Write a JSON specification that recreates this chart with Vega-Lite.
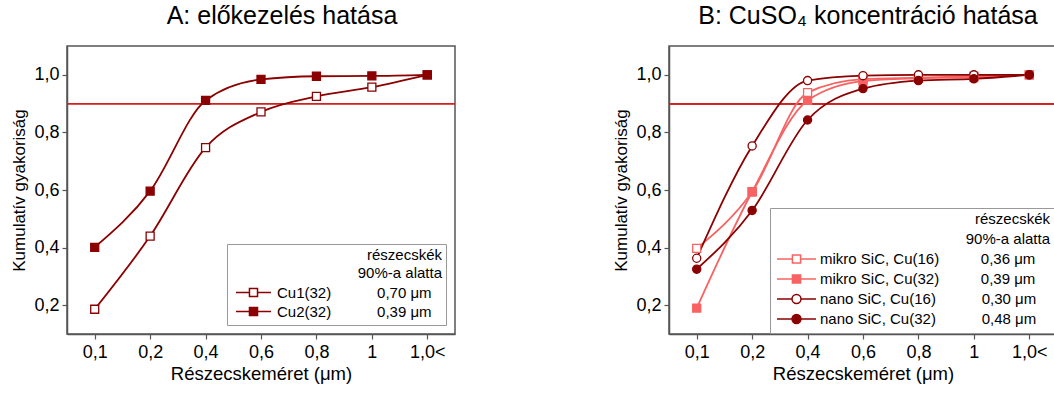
{
  "$schema": "https://vega.github.io/schema/vega-lite/v6.json",
  "background": "white",
  "padding": {"left": 10, "top": 3, "right": 0, "bottom": 0},
  "spacing": 155,
  "datasets": {
    "A": [
      {"meret": "0,1", "ertek": 0.186, "sorozat": "Cu1(32)"},
      {"meret": "0,2", "ertek": 0.44, "sorozat": "Cu1(32)"},
      {"meret": "0,4", "ertek": 0.747, "sorozat": "Cu1(32)"},
      {"meret": "0,6", "ertek": 0.871, "sorozat": "Cu1(32)"},
      {"meret": "0,8", "ertek": 0.925, "sorozat": "Cu1(32)"},
      {"meret": "1", "ertek": 0.957, "sorozat": "Cu1(32)"},
      {"meret": "1,0<", "ertek": 1.0, "sorozat": "Cu1(32)"},
      {"meret": "0,1", "ertek": 0.401, "sorozat": "Cu2(32)"},
      {"meret": "0,2", "ertek": 0.596, "sorozat": "Cu2(32)"},
      {"meret": "0,4", "ertek": 0.911, "sorozat": "Cu2(32)"},
      {"meret": "0,6", "ertek": 0.984, "sorozat": "Cu2(32)"},
      {"meret": "0,8", "ertek": 0.995, "sorozat": "Cu2(32)"},
      {"meret": "1", "ertek": 0.996, "sorozat": "Cu2(32)"},
      {"meret": "1,0<", "ertek": 1.0, "sorozat": "Cu2(32)"}
    ],
    "B": [
      {"meret": "0,1", "ertek": 0.397, "sorozat": "mikro SiC, Cu(16)"},
      {"meret": "0,2", "ertek": 0.594, "sorozat": "mikro SiC, Cu(16)"},
      {"meret": "0,4", "ertek": 0.938, "sorozat": "mikro SiC, Cu(16)"},
      {"meret": "0,6", "ertek": 0.985, "sorozat": "mikro SiC, Cu(16)"},
      {"meret": "0,8", "ertek": 0.99, "sorozat": "mikro SiC, Cu(16)"},
      {"meret": "1", "ertek": 0.995, "sorozat": "mikro SiC, Cu(16)"},
      {"meret": "1,0<", "ertek": 1.0, "sorozat": "mikro SiC, Cu(16)"},
      {"meret": "0,1", "ertek": 0.19, "sorozat": "mikro SiC, Cu(32)"},
      {"meret": "0,2", "ertek": 0.594, "sorozat": "mikro SiC, Cu(32)"},
      {"meret": "0,4", "ertek": 0.911, "sorozat": "mikro SiC, Cu(32)"},
      {"meret": "0,6", "ertek": 0.978, "sorozat": "mikro SiC, Cu(32)"},
      {"meret": "0,8", "ertek": 0.988, "sorozat": "mikro SiC, Cu(32)"},
      {"meret": "1", "ertek": 0.992, "sorozat": "mikro SiC, Cu(32)"},
      {"meret": "1,0<", "ertek": 1.0, "sorozat": "mikro SiC, Cu(32)"},
      {"meret": "0,1", "ertek": 0.363, "sorozat": "nano SiC, Cu(16)"},
      {"meret": "0,2", "ertek": 0.753, "sorozat": "nano SiC, Cu(16)"},
      {"meret": "0,4", "ertek": 0.98, "sorozat": "nano SiC, Cu(16)"},
      {"meret": "0,6", "ertek": 0.997, "sorozat": "nano SiC, Cu(16)"},
      {"meret": "0,8", "ertek": 1.0, "sorozat": "nano SiC, Cu(16)"},
      {"meret": "1", "ertek": 1.0, "sorozat": "nano SiC, Cu(16)"},
      {"meret": "1,0<", "ertek": 1.0, "sorozat": "nano SiC, Cu(16)"},
      {"meret": "0,1", "ertek": 0.325, "sorozat": "nano SiC, Cu(32)"},
      {"meret": "0,2", "ertek": 0.529, "sorozat": "nano SiC, Cu(32)"},
      {"meret": "0,4", "ertek": 0.843, "sorozat": "nano SiC, Cu(32)"},
      {"meret": "0,6", "ertek": 0.952, "sorozat": "nano SiC, Cu(32)"},
      {"meret": "0,8", "ertek": 0.98, "sorozat": "nano SiC, Cu(32)"},
      {"meret": "1", "ertek": 0.986, "sorozat": "nano SiC, Cu(32)"},
      {"meret": "1,0<", "ertek": 1.0, "sorozat": "nano SiC, Cu(32)"}
    ]
  },
  "resolve": {
    "scale": {"stroke": "independent", "fill": "independent"},
    "legend": {"stroke": "independent", "fill": "independent"}
  },
  "hconcat": [
    {
      "data": {"name": "A"},
      "width": 388,
      "height": 288,
      "title": {"text": "A: előkezelés hatása", "dx": 21},
      "layer": [
        {
          "mark": {"type": "rule", "color": "#D42020", "strokeWidth": 1},
          "encoding": {"y": {"datum": 0.9, "type": "quantitative"}}
        },
        {
          "mark": {"type": "line", "interpolate": "monotone", "strokeWidth": 1.8},
          "encoding": {
            "x": {"field": "meret", "type": "ordinal", "sort": null,
                  "scale": {"type": "point", "domain": ["0,1", "0,2", "0,4", "0,6", "0,8", "1", "1,0<"], "padding": 0.5},
                  "axis": {"labelAngle": 0, "tickSize": 5, "labelPadding": 4, "titlePadding": 3},
                  "title": "Részecskeméret (μm)"},
            "y": {"field": "ertek", "type": "quantitative",
                  "scale": {"domain": [0.1, 1.1], "nice": false, "zero": false},
                  "axis": {"values": [0.2, 0.3, 0.4, 0.5, 0.6, 0.7, 0.8, 0.9, 1.0],
                           "labelExpr": "round(datum.value*10) % 2 == 0 ? replace(format(datum.value, '.1f'), '.', ',') : ''",
                           "tickSize": {"condition": {"test": "round(datum.value*10) % 2 == 0", "value": 5}, "value": 3},
                           "labelOverlap": false, "labelPadding": 3, "titlePadding": 5},
                  "title": "Kumulatív gyakoriság"},
            "stroke": {"field": "sorozat", "type": "nominal",
                       "scale": {"domain": ["Cu1(32)", "Cu2(32)"], "range": ["#8B0000", "#8B0000"]},
                       "legend": {
                         "orient": "none", "legendX": 160, "legendY": 198,
                         "title": ["részecskék", "90%-a alatta"],
                         "titleAnchor": "end", "titleAlign": "right", "titleFontSize": 15, "titleFontWeight": "normal",
                         "titleLineHeight": 18, "titlePadding": 2, "titleColor": "#000",
                         "labelFontSize": 15, "labelLimit": 600, "labelColor": "#000", "labelOffset": 5,
                         "labelExpr": "datum.label == 'Cu1(32)' ? 'Cu1(32)\u00a0\u00a0\u00a0\u00a0\u00a0\u00a0\u00a0\u00a0\u00a0\u00a0\u00a00,70 μm' : 'Cu2(32)\u00a0\u00a0\u00a0\u00a0\u00a0\u00a0\u00a0\u00a0\u00a0\u00a0\u00a00,39 μm'",
                         "symbolType": "M-1,0H-0.23M0.23,0H1M-0.23,-0.23H0.23V0.23H-0.23Z",
                         "symbolSize": 1225, "symbolStrokeWidth": 1.5, "clipHeight": 19, "rowPadding": 0, "symbolOffset": 4,
                         "fillColor": "white", "strokeColor": "#999", "padding": 4,
                         "encode": {"title": {"update": {"dx": {"value": 10}}}}
                       }}
          }
        },
        {
          "mark": {"type": "point", "shape": "square", "size": 64, "opacity": 1, "fillOpacity": 1, "strokeWidth": 1.3},
          "encoding": {
            "x": {"field": "meret", "type": "ordinal", "sort": null},
            "y": {"field": "ertek", "type": "quantitative"},
            "stroke": {"field": "sorozat", "type": "nominal"},
            "fill": {"field": "sorozat", "type": "nominal",
                     "scale": {"domain": ["Cu1(32)", "Cu2(32)"], "range": ["white", "#8B0000"]}, "legend": null}
          }
        }
      ]
    },
    {
      "data": {"name": "B"},
      "width": 388,
      "height": 288,
      "title": {"text": "B: CuSO₄ koncentráció hatása", "dx": 5},
      "layer": [
        {
          "mark": {"type": "rule", "color": "#D42020", "strokeWidth": 1},
          "encoding": {"y": {"datum": 0.9, "type": "quantitative"}}
        },
        {
          "mark": {"type": "line", "interpolate": "monotone", "strokeWidth": 1.8},
          "encoding": {
            "x": {"field": "meret", "type": "ordinal", "sort": null,
                  "scale": {"type": "point", "domain": ["0,1", "0,2", "0,4", "0,6", "0,8", "1", "1,0<"], "padding": 0.5},
                  "axis": {"labelAngle": 0, "tickSize": 5, "labelPadding": 4, "titlePadding": 3},
                  "title": "Részecskeméret (μm)"},
            "y": {"field": "ertek", "type": "quantitative",
                  "scale": {"domain": [0.1, 1.1], "nice": false, "zero": false},
                  "axis": {"values": [0.2, 0.3, 0.4, 0.5, 0.6, 0.7, 0.8, 0.9, 1.0],
                           "labelExpr": "round(datum.value*10) % 2 == 0 ? replace(format(datum.value, '.1f'), '.', ',') : ''",
                           "tickSize": {"condition": {"test": "round(datum.value*10) % 2 == 0", "value": 5}, "value": 3},
                           "labelOverlap": false, "labelPadding": 3, "titlePadding": 5},
                  "title": "Kumulatív gyakoriság"},
            "stroke": {"field": "sorozat", "type": "nominal",
                       "scale": {"domain": ["mikro SiC, Cu(16)", "mikro SiC, Cu(32)", "nano SiC, Cu(16)", "nano SiC, Cu(32)"],
                                 "range": ["#F86262", "#F86262", "#8B0000", "#8B0000"]},
                       "legend": {
                         "orient": "none", "legendX": 101, "legendY": 162,
                         "title": ["részecskék", "90%-a alatta"],
                         "titleAnchor": "end", "titleAlign": "right", "titleFontSize": 15, "titleFontWeight": "normal",
                         "titleLineHeight": 20, "titlePadding": 2, "titleColor": "#000",
                         "labelFontSize": 15, "labelLimit": 600, "labelColor": "#000", "labelOffset": 3,
                         "labelExpr": "datum.label == 'mikro SiC, Cu(16)' ? 'mikro SiC, Cu(16)\u00a0\u00a0\u00a0\u00a0\u00a0\u00a0\u00a0\u00a0\u00a0\u00a00,36 μm' : datum.label == 'mikro SiC, Cu(32)' ? 'mikro SiC, Cu(32)\u00a0\u00a0\u00a0\u00a0\u00a0\u00a0\u00a0\u00a0\u00a0\u00a00,39 μm' : datum.label == 'nano SiC, Cu(16)' ? 'nano SiC, Cu(16)\u00a0\u00a0\u00a0\u00a0\u00a0\u00a0\u00a0\u00a0\u00a0\u00a0\u00a00,30 μm' : 'nano SiC, Cu(32)\u00a0\u00a0\u00a0\u00a0\u00a0\u00a0\u00a0\u00a0\u00a0\u00a0\u00a00,48 μm'",
                         "symbolType": {"signal": "indexof(datum.value, 'mikro') == 0 ? 'M-1,0H-0.21M0.21,0H1M-0.21,-0.21H0.21V0.21H-0.21Z' : 'M-1,0H-0.23M0.23,0H1M-0.23,0A0.23,0.23,0,1,1,0.23,0A0.23,0.23,0,1,1,-0.23,0Z'"},
                         "symbolSize": 1521, "symbolStrokeWidth": 1.5, "clipHeight": 20, "rowPadding": 0, "symbolOffset": 2,
                         "fillColor": "white", "strokeColor": "#999", "padding": 4,
                         "encode": {"title": {"update": {"dx": {"value": 14}}}}
                       }}
          }
        },
        {
          "transform": [{"filter": "indexof(datum.sorozat, 'mikro') == 0"}],
          "mark": {"type": "point", "shape": "square", "size": 64, "opacity": 1, "fillOpacity": 1, "strokeWidth": 1.3},
          "encoding": {
            "x": {"field": "meret", "type": "ordinal", "sort": null},
            "y": {"field": "ertek", "type": "quantitative"},
            "stroke": {"field": "sorozat", "type": "nominal"},
            "fill": {"field": "sorozat", "type": "nominal",
                     "scale": {"domain": ["mikro SiC, Cu(16)", "mikro SiC, Cu(32)", "nano SiC, Cu(16)", "nano SiC, Cu(32)"],
                               "range": ["white", "#F86262", "white", "#8B0000"]}, "legend": null}
          }
        },
        {
          "transform": [{"filter": "indexof(datum.sorozat, 'nano') == 0"}],
          "mark": {"type": "point", "shape": "circle", "size": 66, "opacity": 1, "fillOpacity": 1, "strokeWidth": 1.3},
          "encoding": {
            "x": {"field": "meret", "type": "ordinal", "sort": null},
            "y": {"field": "ertek", "type": "quantitative"},
            "stroke": {"field": "sorozat", "type": "nominal"},
            "fill": {"field": "sorozat", "type": "nominal", "legend": null}
          }
        }
      ]
    }
  ],
  "config": {
    "font": "Liberation Sans",
    "view": {"stroke": "#555", "strokeWidth": 1.5},
    "axis": {"domainColor": "#555", "domainWidth": 1.5, "tickColor": "#555", "tickWidth": 1.2,
             "labelColor": "#000", "labelFontSize": 18, "labelFont": "Liberation Sans",
             "titleFontSize": 17, "titleFontWeight": "normal", "titleColor": "#000", "titleFont": "Liberation Sans", "grid": false},
    "axisX": {"titleFontSize": 18.5},
    "legend": {"labelFont": "Liberation Sans", "titleFont": "Liberation Sans"},
    "title": {"fontSize": 25, "fontWeight": "normal", "color": "#000", "font": "Liberation Sans", "baseline": "alphabetic", "offset": 17}
  }
}
